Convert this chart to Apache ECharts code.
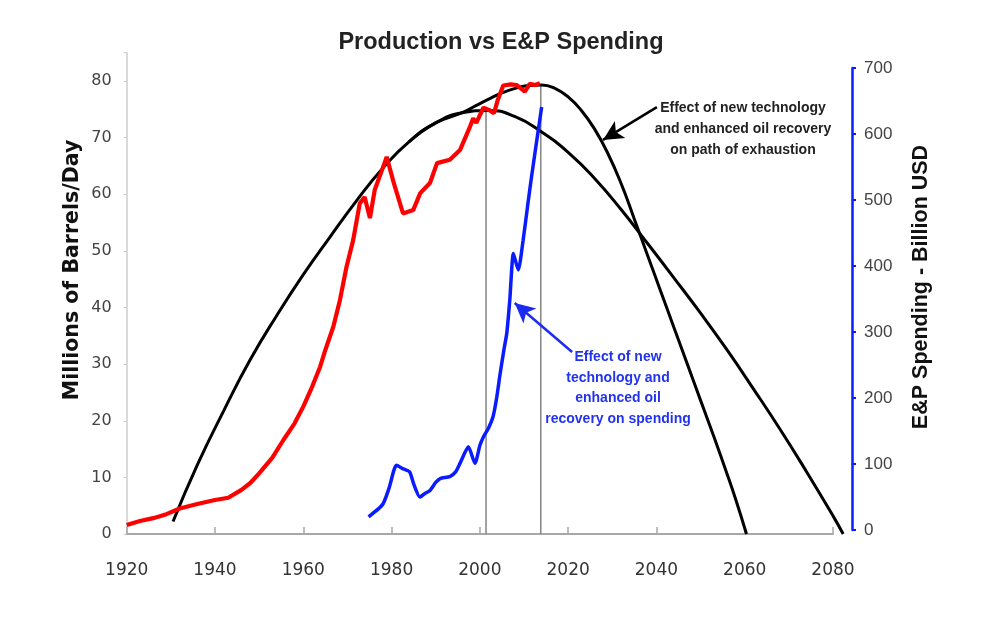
<!DOCTYPE html>
<html>
<head>
<meta charset="utf-8">
<script src="https://cdn.jsdelivr.net/npm/echarts@6.0.0/dist/echarts.min.js"></script>
<style>
  html, body { margin: 0; padding: 0; background: #fff; }
  #main { width: 997px; height: 638px; }
</style>
</head>
<body>
<div id="main"></div>
<script>
// world oil production, millions of barrels/day
var productionYears = [1920, 1923, 1926, 1929, 1932, 1936, 1940, 1943, 1946, 1948, 1950, 1953, 1955.5, 1958, 1960, 1962, 1963.8, 1965, 1966.8, 1968.3, 1969.8, 1971.3, 1972.8, 1973.9, 1975.1, 1976.2, 1977.7, 1978.9, 1979.3, 1980.5, 1982.6, 1984.9, 1986.5, 1988.7, 1990.3, 1993.2, 1995.5, 1997.8, 1998.5, 1999.2, 2000.8, 2002.3, 2003.2, 2004, 2005.3, 2007, 2008.3, 2009.3, 2010.2, 2011.3, 2012.5, 2013.6];
var productionValues = [1.6, 2.3, 2.8, 3.5, 4.5, 5.3, 6.0, 6.4, 7.8, 9.0, 10.7, 13.5, 16.6, 19.5, 22.5, 26, 29.5, 32.5, 36.6, 41.3, 47.2, 51.9, 58.4, 59.5, 55.8, 60.8, 64, 66.6, 66.8, 62, 56.6, 57.2, 60.2, 62, 65.5, 66.1, 67.8, 72.0, 73.4, 72.6, 75.3, 74.8, 74.3, 76.5, 79.2, 79.4, 79.3, 78.7, 78.1, 79.5, 79.3, 79.6];

// original path of exhaustion
var exhaustYears = [1930.5, 1936, 1942, 1948, 1954, 1960, 1966, 1972, 1978, 1984, 1990, 1996, 2002, 2008, 2014, 2020, 2026, 2032, 2038, 2044, 2050, 2056, 2062, 2068, 2074, 2080, 2082.3];
var exhaustValues = [2.2, 12.2, 21.8, 30.8, 38.6, 45.8, 52.4, 58.8, 64.6, 69.3, 72.6, 74.4, 74.8, 73.7, 71.0, 67.4, 62.8, 57.3, 51.3, 45.2, 39.0, 32.5, 25.6, 18.5, 11.0, 3.2, 0];

// path with new technology / enhanced recovery
var techYears = [1984, 1990, 1996, 1999, 2002, 2005, 2008, 2011, 2014, 2017, 2020, 2023, 2026, 2029, 2032, 2035, 2038, 2041, 2044, 2047, 2050, 2053, 2056, 2058, 2060.4];
var techValues = [69.3, 72.6, 74.4, 75.6, 76.8, 77.9, 78.7, 79.2, 79.3, 78.7, 77.2, 74.8, 71.5, 67.2, 61.9, 55.6, 49.2, 42.8, 36.4, 30.0, 23.6, 17.2, 10.6, 6.0, 0];

// E&P spending, billion USD
var spendYears = [1974.8, 1977, 1978.1, 1979.5, 1980.5, 1981.1, 1982.5, 1984.1, 1985, 1986.4, 1987.5, 1988.7, 1990, 1991, 1993.2, 1994.5, 1995.5, 1997.4, 1998.9, 2000, 2000.8, 2002, 2003, 2003.8, 2004.6, 2005.5, 2006.1, 2006.8, 2007.6, 2008.7, 2009.8, 2010.8, 2011.7, 2014];
var spendValues = [20, 32, 40, 65, 90, 98, 93, 88, 70, 50, 55, 60, 72, 78, 81, 88, 101, 126, 101, 128, 141, 155, 172, 200, 237, 275, 298, 350, 419, 394, 439, 490, 535, 641];

// peak markers (year, height)
var peakYears = [2001.4, 2013.8];
var peakHeights = [74.7, 79.3];

var xTicks = [1920, 2080];
var xWide = 2084.3; // reaches the right axis, the curves run past 2080
var leftTicks = [0, 80, 85];
var rightTicks = [0, 700];

function pairs(xs, ys) {
  return xs.map(function (x, i) { return [x, ys[i]]; });
}

var chart = echarts.init(document.getElementById("main"));

var series = [];
peakYears.forEach(function (yr, i) {
  series.push({
    type: "line",
    xAxisIndex: 0,
    yAxisIndex: 0,
    data: [[yr, 0], [yr, peakHeights[i]]],
    symbol: "none",
    lineStyle: { color: "#8a8a8a", width: 1.6 },
    z: 1,
  });
});
series.push({
  type: "line",
  name: "exhaustion",
  xAxisIndex: 2,
  yAxisIndex: 2,
  data: pairs(exhaustYears, exhaustValues),
  smooth: 0.5,
  symbol: "none",
  lineStyle: { color: "#000", width: 3 },
  z: 2,
});
series.push({
  type: "line",
  name: "technology",
  xAxisIndex: 2,
  yAxisIndex: 2,
  data: pairs(techYears, techValues),
  smooth: 0.5,
  symbol: "none",
  lineStyle: { color: "#000", width: 3 },
  z: 2,
  markLine: {
    silent: true,
    animation: false,
    symbol: ["none", "arrow"],
    symbolSize: [15, 20],
    label: { show: false },
    lineStyle: { color: "#000", width: 2.5, type: "solid" },
    data: [[{ coord: [2040.1, 75.4] }, { coord: [2027.9, 69.6] }]],
  },
});
series.push({
  type: "line",
  name: "production",
  xAxisIndex: 0,
  yAxisIndex: 0,
  data: pairs(productionYears, productionValues),
  symbol: "none",
  lineStyle: { color: "#ff0000", width: 4.2 },
  z: 3,
});
series.push({
  type: "line",
  name: "spending",
  xAxisIndex: 1,
  yAxisIndex: 1,
  data: pairs(spendYears, spendValues),
  smooth: 0.2,
  symbol: "none",
  lineStyle: { color: "#0a1cff", width: 3.5 },
  z: 3,
  markLine: {
    silent: true,
    animation: false,
    symbol: ["none", "arrow"],
    symbolSize: [15, 20],
    label: { show: false },
    lineStyle: { color: "#1a2cf0", width: 2.5, type: "solid" },
    data: [[{ coord: [2020.9, 269.7] }, { coord: [2007.9, 343.9] }]],
  },
});

chart.setOption({
  animation: false,
  backgroundColor: "#fff",
  grid: [
    { left: 126.7, right: 164, top: 52.7, bottom: 104, outerBoundsMode: "none" },
    { left: 126.7, right: 164, top: 68, bottom: 108, outerBoundsMode: "none" },
    { left: 126.7, right: 145, top: 52.7, bottom: 104, outerBoundsMode: "none" },
  ],
  xAxis: [
    {
      type: "value",
      gridIndex: 0,
      min: xTicks[0],
      max: xTicks[1],
      interval: 20,
      axisLine: { lineStyle: { color: "#a8a8a8", width: 2 } },
      axisTick: { inside: true, length: 7, lineStyle: { color: "#a8a8a8", width: 1.5 } },
      axisLabel: {
        color: "#333",
        fontFamily: "DejaVu Sans",
        fontSize: 17,
        margin: 28,
        formatter: function (v) { return String(v); },
      },
      splitLine: { show: false },
    },
    { type: "value", gridIndex: 1, min: xTicks[0], max: xTicks[1], show: false },
    { type: "value", gridIndex: 2, min: xTicks[0], max: xWide, show: false },
  ],
  yAxis: [
    {
      type: "value",
      gridIndex: 0,
      min: leftTicks[0],
      max: leftTicks[2],
      interval: 10,
      axisLine: { show: true, lineStyle: { color: "#cccccc", width: 1.5 } },
      axisTick: { show: true, length: 3, lineStyle: { color: "#cccccc" } },
      axisLabel: {
        color: "#444",
        fontFamily: "DejaVu Sans",
        fontSize: 16,
        margin: 15,
        formatter: function (v) { return v <= leftTicks[1] ? String(v) : ""; },
      },
      splitLine: { show: false },
    },
    {
      type: "value",
      gridIndex: 1,
      position: "right",
      offset: 19,
      min: rightTicks[0],
      max: rightTicks[1],
      interval: 100,
      axisLine: { show: true, lineStyle: { color: "#0a1cff", width: 2.5 } },
      axisTick: { show: true, length: 4, lineStyle: { color: "#0a1cff", width: 2 } },
      axisLabel: {
        color: "#444",
        fontFamily: "Liberation Sans",
        fontSize: 17,
        margin: 12,
      },
      splitLine: { show: false },
    },
    { type: "value", gridIndex: 2, min: leftTicks[0], max: leftTicks[2], show: false },
  ],
  graphic: [
    {
      type: "text",
      x: 501,
      y: 43,
      style: {
        text: "Production vs E&P Spending",
        fill: "#222",
        font: "bold 23.5px 'Liberation Sans', Arial, sans-serif",
        textAlign: "center",
        textVerticalAlign: "middle",
      },
    },
    {
      type: "text",
      x: 73,
      y: 270,
      rotation: Math.PI / 2,
      style: {
        text: "Millions of Barrels/Day",
        fill: "#111",
        font: "bold 20.5px 'DejaVu Sans', sans-serif",
        textAlign: "center",
        textVerticalAlign: "middle",
      },
    },
    {
      type: "text",
      x: 921,
      y: 287,
      rotation: Math.PI / 2,
      style: {
        text: "E&P Spending - Billion USD",
        fill: "#111",
        font: "bold 21.5px 'Liberation Sans', Arial, sans-serif",
        textAlign: "center",
        textVerticalAlign: "middle",
      },
    },
    {
      type: "text",
      x: 743,
      y: 129,
      style: {
        text: "Effect of new technology\nand enhanced oil recovery\non path of exhaustion",
        fill: "#222",
        font: "bold 14px 'Liberation Sans', sans-serif",
        lineHeight: 21,
        textAlign: "center",
        textVerticalAlign: "middle",
      },
    },
    {
      type: "text",
      x: 618,
      y: 388,
      style: {
        text: "Effect of new\ntechnology and\nenhanced oil\nrecovery on spending",
        fill: "#2233ee",
        font: "bold 14px 'Liberation Sans', sans-serif",
        lineHeight: 20.5,
        textAlign: "center",
        textVerticalAlign: "middle",
      },
    },
  ],
  series: series,
});
</script>
</body>
</html>
